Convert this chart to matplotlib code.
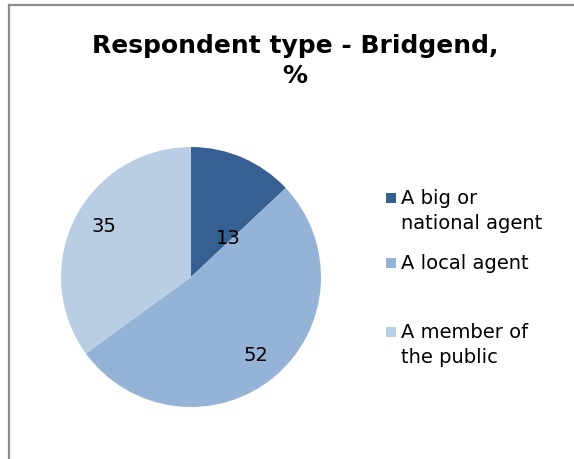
import numpy as np
import matplotlib
matplotlib.use('Agg')
import matplotlib.pyplot as plt
from matplotlib.lines import Line2D
from matplotlib.patches import Rectangle

# respondent type shares (%)
categories = ['A big or\nnational agent', 'A local agent', 'A member of\nthe public']
values = [13, 52, 35]
colors = ['#376092', '#95B3D7', '#B9CDE5']

W, H = 574, 459
fig = plt.figure(figsize=(W / 100, H / 100), dpi=100)

# chart frame (only top and left edges fall inside the image)
fig.add_artist(Line2D([8.5 / W, 8.5 / W], [0, 1 - 4.5 / H], color='#8c8c8c', lw=1.6))
fig.add_artist(Line2D([8.5 / W, 1], [1 - 4.5 / H, 1 - 4.5 / H], color='#8c8c8c', lw=1.6))

ax = fig.add_axes([61 / W, 52 / H, 260 / W, 260 / H])
wedges, texts, autotexts = ax.pie(
    values, colors=colors, startangle=90, counterclock=False,
    autopct=lambda p: f'{p:.0f}', pctdistance=0.78,
    textprops=dict(fontsize=14, color='black'),
    wedgeprops=dict(linewidth=0))
# the narrow first slice gets its label pulled in toward the centre
autotexts[0].set_position((0.285, 0.30))
autotexts[2].set_position((-0.67, 0.39))
ax.set_xlim(-1, 1)
ax.set_ylim(-1, 1)
ax.set_aspect('equal')

fig.text(295 / W, 1 - 61 / H, 'Respondent type - Bridgend,\n%', ha='center', va='center',
         fontsize=18, fontweight='bold', linespacing=1.35)

# legend, drawn entry by entry (Excel spaces the entries unevenly)
entry_tops = [189, 254, 323]
for name, c, top in zip(categories, colors, entry_tops):
    fig.add_artist(Rectangle((386 / W, 1 - (top + 14) / H), 10 / W, 10 / H,
                             transform=fig.transFigure, facecolor=c, edgecolor='none'))
    fig.text(401 / W, 1 - top / H, name, ha='left', va='top', fontsize=14,
             linespacing=1.42, color='black')

fig.savefig('out.png', dpi=100)
